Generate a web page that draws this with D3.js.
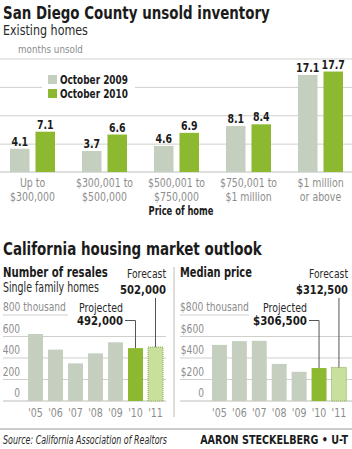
<!DOCTYPE html>
<html>
<head>
<meta charset="utf-8">
<script src="https://cdn.jsdelivr.net/npm/d3@7"></script>
<style>
  body { margin: 0; background: #fff; }
  svg text { font-family: "Liberation Sans Narrow", "DejaVu Sans Condensed", "Roboto", sans-serif; }
  .grid line { stroke: #cfd0cc; stroke-width: 1; }
  .grid path { display: none; }
</style>
</head>
<body>
<div id="chart"></div>
<script>
// top chart: months unsold by price range
const priceCats = ['Up to|$300,000', '$300,001 to|$500,000', '$500,001 to|$750,000', '$750,001 to|$1 million', '$1 million|or above'];
const periods = ['October 2009', 'October 2010'];
const months2009 = [4.1, 3.7, 4.6, 8.1, 17.1];
const months2010 = [7.1, 6.6, 6.9, 8.4, 17.7];
const monthTicks = [5, 10, 15, 20];

// bottom charts
const years = ["'05", "'06", "'07", "'08", "'09", "'10", "'11"];
const resales = [623, 478, 350, 443, 546, 492, 502];      // thousands
const medianPrice = [522, 557, 560, 345, 272, 306.5, 312.5]; // thousand $
const bottomTicks = [0, 200, 400, 600, 800];

const W = 352, H = 449;
const gray = '#c4cfc0', green = '#8cb92f', lightGreen = '#c8e09c';
const ink = '#1b1b1b', soft = '#8c8c8c';

const svg = d3.select('#chart').append('svg')
    .attr('width', W)
    .attr('height', H);

// text helper; w = target width in px, k = squeeze factor
function label(parent, o) {
    const t = parent.append('text')
        .attr('x', o.x).attr('y', o.y)
        .attr('font-size', o.size || 12)
        .attr('font-weight', o.bold ? 'bold' : null)
        .attr('font-style', o.italic ? 'italic' : null)
        .attr('fill', o.fill || ink)
        .attr('text-anchor', o.anchor || 'start')
        .text(o.text);
    if (o.w) t.attr('data-w', o.w);
    else t.attr('data-k', o.k || 0.88);
    return t;
}

// ---------- titles ----------
label(svg, {x: 3, y: 19, size: 18, bold: true, text: 'San Diego County unsold inventory', w: 267});
label(svg, {x: 3, y: 35, size: 13.5, fill: '#2a2a2a', text: 'Existing homes', w: 85});

// ---------- top chart ----------
const topChart = svg.append('g');
const x0 = d3.scaleBand().domain(priceCats).range([-3.5, 356.5]).paddingInner(0.375).paddingOuter(0.1875);
const x1 = d3.scaleBand().domain(periods).range([0, x0.bandwidth()]).paddingInner(0.235);
const y = d3.scaleLinear().domain([0, 20]).range([172, 58.5]);

topChart.append('g')
    .attr('class', 'grid')
    .call(d3.axisRight(y).tickValues(monthTicks).tickSize(W).tickFormat(''));
topChart.append('line')
    .attr('x1', 0).attr('x2', W)
    .attr('y1', y(0)).attr('y2', y(0))
    .attr('stroke', '#bcbcb8');

label(topChart, {x: 18, y: 53, size: 11, fill: soft, text: 'months unsold', w: 65});

const groups = topChart.selectAll('.grp')
    .data(priceCats)
    .join('g')
    .attr('transform', d => `translate(${x0(d)},0)`);

groups.each(function(c, i) {
    const g = d3.select(this);
    const vals = [months2009[i], months2010[i]];
    periods.forEach((p, j) => {
        g.append('rect')
            .attr('x', x1(p)).attr('width', x1.bandwidth())
            .attr('y', y(vals[j])).attr('height', y(0) - y(vals[j]))
            .attr('fill', j === 0 ? gray : green);
        label(g, {x: x1(p) + x1.bandwidth() / 2, y: y(vals[j]) - 3, anchor: 'middle',
                  size: 12.5, bold: true, text: vals[j].toFixed(1), k: 0.84});
    });
    c.split('|').forEach((t, k) => {
        label(g, {x: x0.bandwidth() / 2, y: 187 + k * 13.5, anchor: 'middle',
                  size: 12, fill: soft, text: t, k: 0.87});
    });
});

label(topChart, {x: 181, y: 215, anchor: 'middle', size: 12.5, bold: true, text: 'Price of home', w: 65});

// legend with white backing
const legend = topChart.append('g');
legend.append('rect')
    .attr('x', 42).attr('y', 70).attr('width', 93).attr('height', 32)
    .attr('fill', '#fff');
periods.forEach((p, j) => {
    legend.append('rect')
        .attr('x', 48).attr('y', 75 + j * 14).attr('width', 9).attr('height', 9)
        .attr('fill', j === 0 ? gray : green);
    label(legend, {x: 60, y: 84 + j * 14, size: 12, bold: true, text: p, w: 68});
});

// ---------- bottom section ----------
label(svg, {x: 3, y: 255, size: 18, bold: true, text: 'California housing market outlook', w: 259});

const yb = d3.scaleLinear().domain([0, 800]).range([401, 315]);

function panel(cfg) {
    const g = svg.append('g');
    const x = d3.scaleBand().domain(years).range(cfg.xRange).paddingInner(0.25).paddingOuter(0.25);

    label(g, {x: cfg.left, y: 277, size: 14, bold: true, text: cfg.title, w: cfg.titleW});
    if (cfg.sub) label(g, {x: cfg.left, y: 292, size: 13.5, fill: '#2a2a2a', text: cfg.sub, w: 96});

    // gridlines + tick labels
    bottomTicks.forEach(t => {
        const isTop = t === 800;
        g.append('line')
            .attr('x1', cfg.left).attr('x2', isTop ? cfg.topLineEnd : cfg.right)
            .attr('y1', yb(t)).attr('y2', yb(t))
            .attr('stroke', t === 0 ? '#bcbcb8' : '#cfd0cc');
        label(g, {x: isTop ? cfg.left : cfg.labelEnd, y: yb(t) - 4,
                  anchor: isTop ? 'start' : 'end', size: 11.5, fill: soft,
                  text: isTop ? cfg.prefix + '800 thousand' : (t === 0 ? '0' : cfg.prefix + t),
                  w: isTop ? cfg.topLabelW : null, k: 0.88});
    });

    g.selectAll('.bar')
        .data(cfg.values)
        .join('rect')
        .attr('x', (d, i) => x(years[i]))
        .attr('width', x.bandwidth())
        .attr('y', d => yb(d))
        .attr('height', d => yb(0) - yb(d))
        .attr('fill', (d, i) => i === 6 ? lightGreen : (i === 5 ? green : gray))
        .attr('stroke', (d, i) => i === 6 ? '#8aa85a' : 'none')
        .attr('stroke-dasharray', '1,1');

    years.forEach(d => {
        label(g, {x: x(d) + x.bandwidth() / 2, y: 417, anchor: 'middle',
                  size: 11.5, fill: soft, text: d, k: 0.92});
    });

    // annotations
    const cx10 = x("'10") + x.bandwidth() / 2;
    const cx11 = x("'11") + x.bandwidth() / 2;
    label(g, {x: cfg.fcRight, y: 278, anchor: 'end', size: 12.5, fill: '#2a2a2a', text: 'Forecast', w: 39});
    label(g, {x: cfg.fcRight, y: 294, anchor: 'end', size: 13, bold: true, text: cfg.fcLabel, w: cfg.fcW});
    g.append('path')
        .attr('d', `M${cx11},298V${yb(cfg.values[6])}`)
        .attr('stroke', '#555').attr('fill', 'none');

    label(g, {x: cfg.prRight, y: 312, anchor: 'end', size: 12, fill: '#2a2a2a', text: 'Projected', w: 44});
    label(g, {x: cfg.prRight, y: 325, anchor: 'end', size: 12.5, bold: true, text: cfg.prLabel, w: cfg.prW});
    g.append('path')
        .attr('d', `M${cfg.prRight + 2},320.5H${cx10}V${yb(cfg.values[5])}`)
        .attr('stroke', '#555').attr('fill', 'none');
}

panel({
    title: 'Number of resales', titleW: 105, sub: 'Single family homes', values: resales, prefix: '',
    left: 3, right: 166, topLineEnd: 68, labelEnd: 20, topLabelW: 63, xRange: [23, 168],
    fcRight: 166, fcLabel: '502,000', fcW: 46, prRight: 123, prLabel: '492,000', prW: 46
});
panel({
    title: 'Median price', titleW: 72, sub: null, values: medianPrice, prefix: '$',
    left: 180, right: 352, topLineEnd: 249, labelEnd: 204, topLabelW: 69, xRange: [207, 351.4],
    fcRight: 348, fcLabel: '$312,500', fcW: 52, prRight: 307, prLabel: '$306,500', prW: 54
});

// divider between panels
svg.append('line')
    .attr('x1', 174).attr('x2', 174).attr('y1', 267).attr('y2', 417)
    .attr('stroke', '#bcbcb8');

// footer
svg.append('line')
    .attr('x1', 0).attr('x2', W).attr('y1', 429).attr('y2', 429)
    .attr('stroke', '#9a9a9a');
label(svg, {x: 3, y: 444, size: 11.5, italic: true, fill: '#2a2a2a', text: 'Source: California Association of Realtors', w: 164});
label(svg, {x: 348, y: 444, anchor: 'end', size: 11.5, bold: true, text: 'AARON STECKELBERG  •  U-T', w: 148});

// squeeze text horizontally to match the condensed face of the original
svg.selectAll('text').each(function() {
    const el = d3.select(this);
    const w0 = this.getComputedTextLength();
    const k = el.attr('data-w') ? +el.attr('data-w') / w0 : +el.attr('data-k');
    const tx = +el.attr('x'), ty = +el.attr('y');
    el.attr('x', 0).attr('y', 0)
      .attr('transform', `translate(${tx},${ty}) scale(${k},1)`);
});
</script>
</body>
</html>
